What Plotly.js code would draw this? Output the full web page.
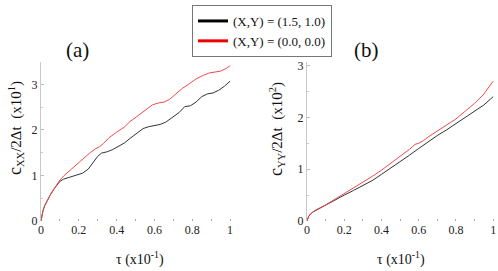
<!DOCTYPE html>
<html>
<head>
<meta charset="utf-8">
<script src="https://cdn.plot.ly/plotly-3.0.1.min.js"></script>
<style>html,body{margin:0;padding:0;background:#fff;}#chart{width:498px;height:271px;}</style>
</head>
<body>
<div id="chart"></div>
<script>
// Panel (a): c_XX / 2Δt  (x10^1)
var tauA_black = [0,0.005,0.01,0.02,0.03,0.05,0.07,0.09,0.1,0.12,0.15,0.18,0.2,0.22,0.25,0.28,0.3,0.32,0.35,0.38,0.41,0.44,0.47,0.5,0.54,0.57,0.6,0.63,0.66,0.7,0.73,0.76,0.79,0.82,0.85,0.88,0.91,0.94,0.97,1.0];
var cxxBlack = [0,0.15,0.22,0.34,0.43,0.58,0.71,0.82,0.87,0.92,0.96,0.99,1.02,1.05,1.14,1.3,1.42,1.49,1.52,1.57,1.64,1.71,1.81,1.9,2.03,2.07,2.09,2.12,2.17,2.28,2.38,2.51,2.53,2.61,2.73,2.79,2.81,2.87,2.96,3.07];
var tauA_red = [0,0.005,0.01,0.02,0.03,0.05,0.07,0.09,0.1,0.12,0.15,0.2,0.23,0.26,0.29,0.31,0.33,0.36,0.4,0.44,0.47,0.5,0.53,0.56,0.59,0.62,0.65,0.68,0.72,0.75,0.78,0.82,0.86,0.89,0.92,0.95,0.98,1.0];
var cxxRed = [0,0.15,0.22,0.34,0.43,0.58,0.71,0.83,0.9,0.99,1.1,1.27,1.4,1.5,1.59,1.63,1.7,1.83,1.95,2.06,2.18,2.27,2.35,2.46,2.55,2.59,2.61,2.67,2.81,2.92,3.0,3.12,3.2,3.25,3.27,3.29,3.35,3.41];

// Panel (b): c_YY / 2Δt  (x10^2)
var tauB_black = [0,0.01,0.03,0.05,0.1,0.15,0.2,0.25,0.3,0.35,0.4,0.45,0.5,0.55,0.6,0.65,0.7,0.75,0.8,0.85,0.9,0.95,1.0];
var cyyBlack = [0,0.1,0.17,0.21,0.3,0.4,0.5,0.59,0.68,0.78,0.9,1.02,1.14,1.27,1.4,1.53,1.65,1.76,1.88,2.0,2.11,2.24,2.4];
var tauB_red = [0,0.01,0.03,0.05,0.1,0.15,0.2,0.25,0.3,0.35,0.4,0.45,0.5,0.55,0.58,0.6,0.625,0.65,0.7,0.75,0.8,0.85,0.9,0.95,1.0];
var cyyRed = [0,0.1,0.17,0.22,0.31,0.42,0.53,0.64,0.74,0.86,0.98,1.12,1.25,1.38,1.48,1.5,1.55,1.62,1.74,1.85,1.97,2.12,2.27,2.45,2.7];

var seriesNames = ['(X,Y) = (1.5, 1.0)', '(X,Y) = (0.0, 0.0)'];
var xTickVals = [0,0.2,0.4,0.6,0.8,1];
var xTickText = ['0','0.2','0.4','0.6','0.8','1'];
var yTickValsA = [0,1,2,3];
var yTickValsB = [0,1,2,3];

var serif = 'Liberation Serif';
var W = 498, H = 271;
function px(x){return x/W;}
function py(y){return 1-y/H;}

var lineBlack = '#333333', lineRed = '#f04a4a';

var traces = [
  {x: tauA_black, y: cxxBlack, xaxis:'x', yaxis:'y', mode:'lines', line:{color:lineBlack,width:1}, showlegend:false, hoverinfo:'skip'},
  {x: tauA_red, y: cxxRed, xaxis:'x', yaxis:'y', mode:'lines', line:{color:lineRed,width:1}, showlegend:false, hoverinfo:'skip'},
  {x: tauB_black, y: cyyBlack, xaxis:'x2', yaxis:'y2', mode:'lines', line:{color:lineBlack,width:1}, showlegend:false, hoverinfo:'skip'},
  {x: tauB_red, y: cyyRed, xaxis:'x2', yaxis:'y2', mode:'lines', line:{color:lineRed,width:1}, showlegend:false, hoverinfo:'skip'},
  {x:[null], y:[null], mode:'lines', name: seriesNames[0], line:{color:'#000',width:3}},
  {x:[null], y:[null], mode:'lines', name: seriesNames[1], line:{color:'#ee0000',width:3}}
];

var tickFont = {family: serif, size: 12, color:'#222'};
function xax(domain){
  return {domain: domain, range:[0,1.01], showline:false, zeroline:false, showgrid:false,
    tickvals:xTickVals, ticktext:xTickText, ticks:'inside', ticklen:2, tickcolor:'#aaa',
    minor:{dtick:0.1, tick0:0, ticks:'inside', ticklen:2, tickcolor:'#aaa'},
    tickfont: tickFont, fixedrange:true};
}
function yax(domain, range, vals, anchor){
  return {domain: domain, range: range, showline:true, linecolor:'#c8c8c8', linewidth:1, zeroline:false, showgrid:false,
    tickvals: vals, ticks:'inside', ticklen:3, tickcolor:'#bbb',
    minor:{dtick:0.5, tick0:0, ticks:'inside', ticklen:2, tickcolor:'#ccc'},
    tickfont: tickFont, anchor: anchor, fixedrange:true};
}
function note(text, x, y, size, angle){
  var a = {text:text, xref:'paper', yref:'paper', x:px(x), y:py(y), xanchor:'center', yanchor:'middle',
    showarrow:false, font:{family:serif, size:size, color:'#111'}};
  if (angle) a.textangle = angle;
  return a;
}

var yDom = [py(221), py(62)];
var layout = {
  width: W, height: H,
  margin: {l:0, r:0, t:0, b:0},
  paper_bgcolor:'#fff', plot_bgcolor:'rgba(0,0,0,0)',
  font: {family: serif, color:'#222'},
  xaxis: Object.assign(xax([px(41), px(232)]), {anchor:'y'}),
  yaxis: yax(yDom, [0,3.49], yTickValsA, 'x'),
  xaxis2: Object.assign(xax([px(307), px(495)]), {anchor:'y2'}),
  yaxis2: yax(yDom, [0,3.07], yTickValsB, 'x2'),
  showlegend: true,
  legend: {x: px(192), y: py(5), xanchor:'left', yanchor:'top', bgcolor:'#fff', bordercolor:'#777', borderwidth:1,
    font:{family: serif, size:13, color:'#111'}, tracegroupgap:0, itemwidth:30},
  annotations: [
    note('(a)', 77, 50, 21),
    note('(b)', 366, 50, 21),
    note('<span style="font-size:18px">c</span><sub>XX</sub>/2Δt  (x10<sup>1</sup>)', 15, 128, 15, -90),
    note('<span style="font-size:18px">c</span><sub>YY</sub>/2Δt  (x10<sup>2</sup>)', 276, 129, 15, -90),
    note('τ (x10<sup>-1</sup>)', 140, 258, 14),
    note('τ (x10<sup>-1</sup>)', 401, 258, 14)
  ]
};

Plotly.newPlot('chart', traces, layout, {staticPlot:true, displayModeBar:false});
</script>
</body>
</html>
